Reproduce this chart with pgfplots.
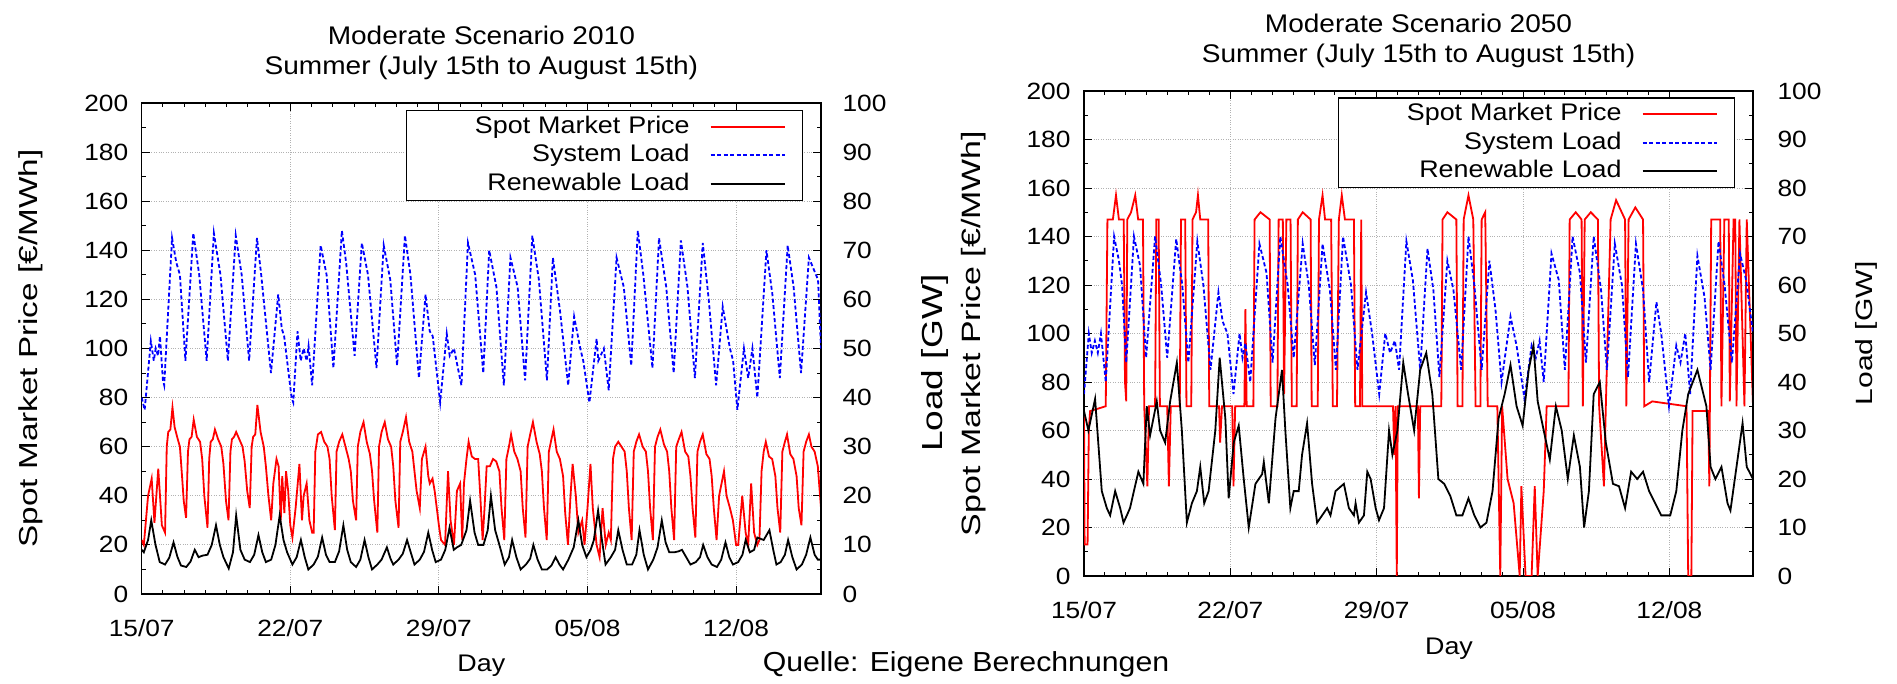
\documentclass[border=0pt]{standalone}
\usepackage{pgfplots}
\usepackage{pgfplotstable}
\pgfplotsset{compat=1.18}
\usepackage{fontspec}
\setmainfont{Liberation Sans}
\newfontfamily\tickfont{Liberation Sans}[FakeStretch=1.12]
\newfontfamily\titlefont{Liberation Sans}[FakeStretch=1.1]
\newfontfamily\ylabfont{Liberation Sans}[FakeStretch=1.28]

% ---------------- 2010 data ----------------
\pgfplotstableread{
x y
0 22
0.1 20
0.3 40
0.47 47
0.6 29
0.78 51
0.95 28
1.1 25
1.18 60
1.25 66
1.35 67
1.45 76
1.55 68
1.7 63
1.8 60
1.9 48
1.98 38
2.09 31
2.18 58
2.25 63
2.35 64
2.45 71
2.6 64
2.75 62
2.85 55
2.95 40
3.1 27
3.18 55
3.25 62
3.35 63
3.45 67
3.6 63
3.75 60
3.85 53
3.97 38
4.09 30
4.18 58
4.25 63
4.35 64
4.45 66
4.6 63
4.75 60
4.85 54
4.97 42
5.09 35
5.18 60
5.25 64
5.35 65
5.45 77
5.6 66
5.75 60
5.85 52
5.97 40
6.1 30
6.2 45
6.35 55
6.45 52
6.55 30
6.62 48
6.72 33
6.8 50
6.9 42
7.0 28
7.1 23
7.25 35
7.43 53
7.55 30
7.63 40
7.77 45
7.9 30
8.03 25
8.1 25
8.18 58
8.3 65
8.45 66
8.6 62
8.75 60
8.85 55
8.95 40
9.1 26
9.18 58
9.3 62
9.45 65
9.6 60
9.75 55
9.85 50
9.95 38
10.1 30
10.18 60
10.3 66
10.45 70
10.6 62
10.75 57
10.85 50
10.95 38
11.1 25
11.18 60
11.3 66
11.45 70
11.6 63
11.75 60
11.85 52
11.95 38
12.1 27
12.18 62
12.3 66
12.45 72
12.6 62
12.75 58
12.85 50
12.95 42
13.1 35
13.2 55
13.37 60
13.5 48
13.57 45
13.7 47
13.8 42
13.9 35
14.0 28
14.1 22
14.29 20
14.43 50
14.55 30
14.71 20
14.85 42
15.0 45
15.1 22
15.18 45
15.3 55
15.4 62
15.55 56
15.7 55
15.85 55
15.95 40
16.06 22
16.15 35
16.25 52
16.4 52
16.55 55
16.7 54
16.85 50
16.95 35
17.08 22
17.18 55
17.3 60
17.4 65
17.55 58
17.7 55
17.85 50
17.95 35
18.08 23
18.18 60
18.3 65
18.43 70
18.6 62
18.75 57
18.85 50
18.95 35
19.08 22
19.18 58
19.3 63
19.4 67
19.55 58
19.7 55
19.85 48
19.95 33
20.08 20
20.2 40
20.3 53
20.45 40
20.57 25
20.75 30
20.86 20
21.0 35
21.14 53
21.25 35
21.43 20
21.57 15
21.71 35
21.86 20
22.0 25
22.1 22
22.2 55
22.3 60
22.45 62
22.6 60
22.75 58
22.85 50
22.95 35
23.08 22
23.18 58
23.3 62
23.43 65
23.6 60
23.75 58
23.85 50
23.95 35
24.08 22
24.18 60
24.3 64
24.43 67
24.6 61
24.75 58
24.85 50
24.95 35
25.08 22
25.18 60
25.3 63
25.43 66
25.6 58
25.75 56
25.85 48
25.95 35
26.08 23
26.18 58
26.3 62
26.43 65
26.6 57
26.75 55
26.85 48
26.95 35
27.08 22
27.2 40
27.43 50
27.55 40
27.71 35
27.85 30
28.0 20
28.1 20
28.29 40
28.45 25
28.57 20
28.71 45
28.85 25
29.0 20
29.1 22
29.2 50
29.3 58
29.4 62
29.55 56
29.7 55
29.85 48
29.95 35
30.08 25
30.18 58
30.3 62
30.4 65
30.55 57
30.7 55
30.85 48
30.95 35
31.08 28
31.18 58
31.3 62
31.43 65
31.55 60
31.7 58
31.85 52
32 35
}\Lprice

\pgfplotstableread{
x y
0 40
0.14 37.5
0.43 51.5
0.57 47.5
0.66 50
0.77 48.5
0.86 52.5
1.0 43.5
1.06 42.5
1.43 72.5
1.63 67.5
1.8 65
2.06 47.5
2.43 73.5
2.71 65
3.06 47.5
3.4 73.5
3.71 65
4.06 47.5
4.43 73
4.71 65
5.06 47.5
5.43 72.5
5.63 65
6.09 45
6.43 61
6.6 54
6.71 52.5
7.06 40
7.14 39
7.34 53.5
7.49 47.5
7.63 50
7.77 47.5
7.86 50.5
8.03 42.5
8.43 71
8.71 65
9.03 46
9.43 74
9.63 67.5
10.03 48.5
10.37 71.5
10.66 65
11.06 46
11.4 71
11.71 64
12.03 46.5
12.4 73
12.66 65
13.06 44
13.37 61
13.57 53.5
13.71 52.5
14.06 39
14.37 53
14.51 48.5
14.71 50
15.06 42.5
15.37 71.5
15.71 65
16.09 45
16.37 70
16.71 62.5
17.06 42.5
17.37 68.5
17.71 62.5
18.06 43.5
18.4 73
18.71 64
19.09 43.5
19.37 68.5
19.71 57.5
20.09 42.5
20.37 56.5
20.66 50
20.8 47.5
21.09 39
21.43 52
21.51 47.5
21.77 50
22.0 41.5
22.37 68.5
22.71 62.5
23.06 46.5
23.37 74
23.63 65
24.06 46
24.37 72.5
24.71 62.5
25.06 45
25.4 72
25.71 62.5
26.06 44
26.43 71.5
26.71 60
27.06 42.5
27.37 58.5
27.71 50
27.86 47.5
28.06 37.5
28.37 50
28.57 44
28.77 50
29.0 40
29.43 70
29.71 61
30.06 44
30.43 71
30.71 62.5
31.06 45
31.43 68.5
31.86 64
32 50
}\Lsys

\pgfplotstableread{
x y
0 9
0.1 8.5
0.3 11
0.45 15
0.65 10
0.85 6.5
1.1 6
1.3 7.4
1.5 10.5
1.68 7.6
1.85 5.8
2.1 5.5
2.3 6.6
2.5 9
2.68 7.5
2.85 7.8
3.1 8
3.3 10
3.5 14
3.68 10
3.85 7.5
4.1 5.2
4.3 8.5
4.45 16
4.65 9
4.85 7
5.1 6.5
5.3 8
5.5 12
5.68 8.5
5.85 6.5
6.1 7
6.3 10
6.5 16
6.68 11
6.85 8.5
7.1 6
7.3 7.5
7.5 11
7.68 7.5
7.85 5
8.1 6
8.3 7.6
8.5 11.5
8.68 8
8.85 6.5
9.1 6.5
9.3 8.7
9.5 14
9.68 9
9.85 6.5
10.1 5.5
10.3 7
10.5 11
10.68 7.5
10.85 5
11.1 6
11.3 7
11.55 9.5
11.72 7.2
11.85 6
12.1 7
12.3 8.2
12.5 11
12.68 8.4
12.85 6
13.1 7
13.3 8.6
13.5 12.5
13.68 9
13.85 6.5
14.1 7
14.3 9
14.5 13.5
14.7 9
14.85 9.5
15.05 10
15.3 13
15.47 19
15.68 12.5
15.85 10
16.1 10
16.3 13
16.45 20
16.65 13
16.85 10
17.1 6
17.3 7.5
17.45 11
17.65 7.5
17.85 5
18.1 6
18.3 7.2
18.45 10
18.65 7
18.85 5
19.1 5
19.3 5.8
19.5 7.5
19.68 6
19.85 5
20.1 7
20.35 9.5
20.57 15
20.75 10
20.95 7.5
21.15 9
21.3 11
21.5 17
21.68 11
21.85 6
22.1 7.5
22.3 9
22.45 13
22.65 9
22.85 6
23.1 6
23.3 8
23.45 13
23.65 8
23.85 5
24.1 7
24.3 9.5
24.5 15
24.68 10.5
24.85 8.5
25.1 8.5
25.3 8.7
25.45 9
25.65 7.5
25.85 6
26.1 6.5
26.3 7.5
26.45 10
26.65 7.5
26.85 6
27.1 5.5
27.3 7
27.5 10.5
27.68 7.5
27.85 6
28.1 6.5
28.3 8
28.45 11
28.65 8.5
28.85 9
29.0 11.5
29.3 11
29.57 13
29.75 9
29.9 6
30.1 6.5
30.3 8
30.45 11
30.65 7.5
30.85 5
31.1 6
31.3 8
31.5 11.5
31.7 8
31.85 7
32 7
}\Lren

% ---------------- 2050 data ----------------
\pgfplotstableread{
x y
0 68
0.03 13
0.17 13
0.23 60
0.29 68
1.04 70
1.12 147
1.38 147
1.53 157
1.67 147
1.9 147
1.96 80
2.02 72
2.07 147
2.25 150
2.45 157
2.59 147
2.82 147
2.88 70
3.03 37
3.11 70
3.4 70
3.46 147
3.57 147
3.63 70
3.98 70
4.06 37
4.15 70
4.58 70
4.64 147
4.84 147
4.9 70
5.13 70
5.19 147
5.36 150
5.45 157
5.56 147
5.94 147
5.99 70
6.46 70
6.51 55
6.6 70
7.09 70
7.15 37
7.23 70
7.67 70
7.72 110
7.78 70
8.1 70
8.16 147
8.44 150
8.88 147
8.93 70
9.25 70
9.31 147
9.51 147
9.57 75
9.68 147
9.88 147
9.94 70
10.17 70
10.23 147
10.46 150
10.84 147
10.89 70
11.18 70
11.24 147
11.41 157
11.53 147
11.82 147
11.9 70
12.1 70
12.19 147
12.33 157
12.48 147
12.91 147
12.97 70
13.2 70
13.26 147
13.31 70
14.78 70
14.84 50
14.9 70
14.96 0
15.01 70
15.97 70
16.02 32
16.08 70
17.09 70
17.15 147
17.38 150
17.81 147
17.87 70
18.1 70
18.16 147
18.39 157
18.62 147
18.73 70
18.96 70
19.02 147
19.19 150
19.31 70
19.77 70
19.91 0
20.0 70
20.26 40
20.55 30
20.84 0
20.92 37
21.12 0
21.41 0
21.56 37
21.7 0
21.99 35
22.13 70
23.17 70
23.23 147
23.52 150
23.8 147
23.86 70
23.95 147
24.24 150
24.58 147
24.64 70
24.87 37
24.96 70
25.19 147
25.45 155
25.88 147
25.94 70
26.05 147
26.37 152
26.74 147
26.8 70
27.18 72
28.82 70
28.9 0
29.05 0
29.11 68
29.86 68
29.91 37
30.0 147
30.43 147
30.49 70
30.63 147
30.84 147
30.89 72
31.07 147
31.15 147
31.21 70
31.35 147
31.59 70
31.7 147
32 70
}\Rprice

\pgfplotstableread{
x y
0 37.5
0.23 50
0.37 46
0.52 48.5
0.66 46
0.81 50
1.04 40
1.44 70
1.67 65
1.82 60
2.02 44
2.39 70
2.68 64
2.97 45
3.4 70
3.69 60
3.98 45
4.41 69.5
4.7 60
4.99 44
5.42 69
5.71 60
6.05 42.5
6.43 58.5
6.63 52.5
6.86 50
7.15 37.5
7.44 50
7.58 45
7.72 48
7.95 40
8.39 68.5
8.73 62.5
9.02 44
9.39 70
9.74 60
10.03 45
10.46 68.5
10.75 60
11.04 43.5
11.41 68.5
11.76 59
12.05 42.5
12.39 70
12.77 60
13.08 42.5
13.49 58.5
13.78 50
14.12 37.5
14.41 50
14.64 46
14.87 48.5
15.07 42.5
15.42 69
15.73 61
16.08 42.5
16.43 67.5
16.71 59
17.0 41
17.38 65
17.67 59
18.04 42.5
18.39 70
18.67 60
19.02 42.5
19.39 65
19.68 55
19.97 40
20.4 53.5
20.69 47.5
21.07 36.5
21.41 47.5
21.61 45
21.79 48.5
21.99 40
22.36 66.5
22.71 61
23.0 42.5
23.37 70
23.72 62.5
24.01 44
24.38 70
24.73 59
25.01 42.5
25.39 68.5
25.73 60
26.02 41
26.4 68.5
26.74 59
27.03 40
27.38 56.5
27.61 50
27.98 35
28.33 47.5
28.53 44
28.76 50
28.99 37.5
29.34 66
29.68 57.5
29.97 42.5
30.35 69
30.64 60
30.99 44
31.38 66.5
31.67 61
32 50
}\Rsys

\pgfplotstableread{
x y
0 34
0.21 30
0.53 36.5
0.85 17.5
1.09 14
1.25 12.5
1.49 17.5
1.73 14
1.89 11
2.05 12.5
2.2 14
2.6 21.5
2.84 19
3.0 35
3.16 29
3.48 36
3.64 30
3.88 27.5
4.12 36
4.44 44
4.68 30
4.92 11
5.16 15
5.4 17.5
5.56 22.5
5.75 15
5.96 17.5
6.28 30
6.49 45
6.76 32.5
6.92 16
7.16 27.5
7.4 31
7.64 20
7.88 10
8.2 19
8.52 21
8.6 23.5
8.84 15
9.16 32.5
9.47 42.5
9.63 30
9.87 14
10.03 17.5
10.27 17.5
10.43 25
10.67 31.5
10.91 19
11.15 11
11.39 12.5
11.63 14
11.79 12.5
12.03 17.5
12.43 19
12.67 14
12.91 12.5
12.99 15
13.15 11
13.39 12.5
13.55 21.5
13.71 20
13.95 14
14.11 11.5
14.35 14
14.59 30
14.75 25
14.99 30
15.27 44
15.5 37.5
15.79 30
16.08 42.5
16.37 46
16.66 37.5
16.95 20
17.23 19
17.52 16.5
17.81 12.5
18.1 12.5
18.39 16
18.67 12.5
18.96 10
19.25 11
19.54 17.5
19.83 32.5
20.12 37.5
20.4 43.5
20.69 35
20.98 31
21.27 42.5
21.5 47.5
21.7 36
21.99 30
22.28 24
22.57 35
22.85 30
23.14 20
23.43 29
23.72 22.5
23.92 10
24.15 17.5
24.38 37.5
24.67 40
24.96 27.5
25.3 19
25.59 18.5
25.88 14
26.17 21.5
26.46 20
26.74 21.5
27.03 17.5
27.32 15
27.61 12.5
28.04 12.5
28.33 17.5
28.62 30
28.9 37.5
29.34 42.5
29.77 35
29.97 22.5
30.2 20
30.49 22.5
30.78 15
30.92 13.5
31.21 22.5
31.5 31.5
31.7 22.5
32 20
}\Rren

\pgfplotsset{
  base/.style={
    scale only axis, xmin=0, xmax=32,
    /pgf/number format/assume math mode=true,
    tick label style={font=\tickfont\fontsize{23.5}{26}\selectfont},
  },
  leftax/.style={base, ymin=0, ymax=200,
    xtick={0,7,14,21,28}, xticklabels={15/07,22/07,29/07,05/08,12/08},
    minor x tick num=6, ytick={0,20,...,200}, minor y tick num=1,
    tick align=inside, major tick length=8pt, minor tick length=4pt,
    every tick/.style={black, line width=0.9pt},
    grid=major, major grid style={dotted, gray!60, line width=0.9pt},
    axis line style={line width=1.4pt},
    xticklabel style={yshift=-22pt},
    yticklabel style={xshift=-10pt},
  },
  rightax/.style={base, ymin=0, ymax=100, axis x line=none, axis y line*=right,
    ytick={0,10,...,100}, ytick style={draw=none},
    axis line style={line width=1.4pt},
    legend cell align=right, legend plot pos=right,
    legend image code/.code={\draw[##1] (0pt,0pt) -- (74pt,0pt);},
    legend style={draw=black, line width=1.1pt, fill=white, inner xsep=17pt, inner ysep=2pt,
      font=\tickfont\fontsize{24}{28}\selectfont,
      nodes={inner xsep=0pt, inner ysep=2pt, text height=18.5pt, text depth=6pt, text width=266pt, align=right},
      column sep=20pt},
  },
  pricestyle/.style={red, line width=1.8pt},
  sysstyle/.style={blue, line width=1.8pt, dash pattern=on 4pt off 2.5pt},
  renstyle/.style={black, line width=1.8pt},
}

\begin{document}
\begin{tikzpicture}
\path[use as bounding box] (0,0) rectangle (1897pt,684pt);

% ================= 2010 =================
\begin{axis}[leftax, at={(141.7pt,90pt)}, anchor=south west, width=679.3pt, height=491pt,
  title={Moderate Scenario 2010\\Summer (July 15th to August 15th)},
  every axis title/.style={at={(rel axis cs:0.5,1)}, anchor=south, yshift=20pt, align=center,
    font=\titlefont\fontsize{25.5}{30}\selectfont},
  xlabel={Day},
  every axis x label/.style={at={(rel axis cs:0.5,0)}, anchor=center, yshift=-72pt,
    font=\tickfont\fontsize{24}{26}\selectfont},
  ylabel={Spot Market Price [€/MWh]},
  every axis y label/.style={at={(rel axis cs:-0.163,0.5)}, rotate=90, anchor=center,
    font=\ylabfont\fontsize{26}{28}\selectfont},
]
\addplot[pricestyle] table {\Lprice};
\end{axis}
\begin{axis}[rightax, at={(141.7pt,90pt)}, anchor=south west, width=679.3pt, height=491pt,
  yticklabel style={xshift=18pt},
  ylabel={Load [GW]},
  every axis y label/.style={at={(rel axis cs:1.168,0.47)}, rotate=90, anchor=center,
    font=\ylabfont\fontsize{29}{30}\selectfont},
  legend style={at={(0.9735,0.9857)}, anchor=north east},
]
\addlegendimage{pricestyle}
\addlegendentry{Spot Market Price}
\addplot[sysstyle] table {\Lsys};
\addlegendentry{System Load}
\addplot[renstyle] table {\Lren};
\addlegendentry{Renewable Load}
\end{axis}

% ================= 2050 =================
\begin{axis}[leftax, at={(1084pt,108pt)}, anchor=south west, width=669pt, height=485pt,
  title={Moderate Scenario 2050\\Summer (July 15th to August 15th)},
  every axis title/.style={at={(rel axis cs:0.5,1)}, anchor=south, yshift=20pt, align=center,
    font=\titlefont\fontsize{25.5}{30}\selectfont},
  xlabel={Day},
  every axis x label/.style={at={(rel axis cs:0.5456,0)}, anchor=center, yshift=-73pt,
    font=\tickfont\fontsize{24}{26}\selectfont},
  ylabel={Spot Market Price [€/MWh]},
  every axis y label/.style={at={(rel axis cs:-0.165,0.5)}, rotate=90, anchor=center,
    font=\ylabfont\fontsize{26.5}{28}\selectfont},
]
\addplot[pricestyle] table {\Rprice};
\end{axis}
\begin{axis}[rightax, at={(1084pt,108pt)}, anchor=south west, width=669pt, height=485pt,
  yticklabel style={xshift=21pt},
  ylabel={Load [GW]},
  every axis y label/.style={at={(rel axis cs:1.170,0.5)}, rotate=90, anchor=center,
    font=\ylabfont\fontsize{23.5}{26}\selectfont},
  legend style={at={(0.973,0.9866)}, anchor=north east},
]
\addlegendimage{pricestyle}
\addlegendentry{Spot Market Price}
\addplot[sysstyle] table {\Rsys};
\addlegendentry{System Load}
\addplot[renstyle] table {\Rren};
\addlegendentry{Renewable Load}
\end{axis}

\node[font=\titlefont\fontsize{27.5}{30}\selectfont] at (966pt,20pt) {Quelle: Eigene Berechnungen};
\end{tikzpicture}
\end{document}
